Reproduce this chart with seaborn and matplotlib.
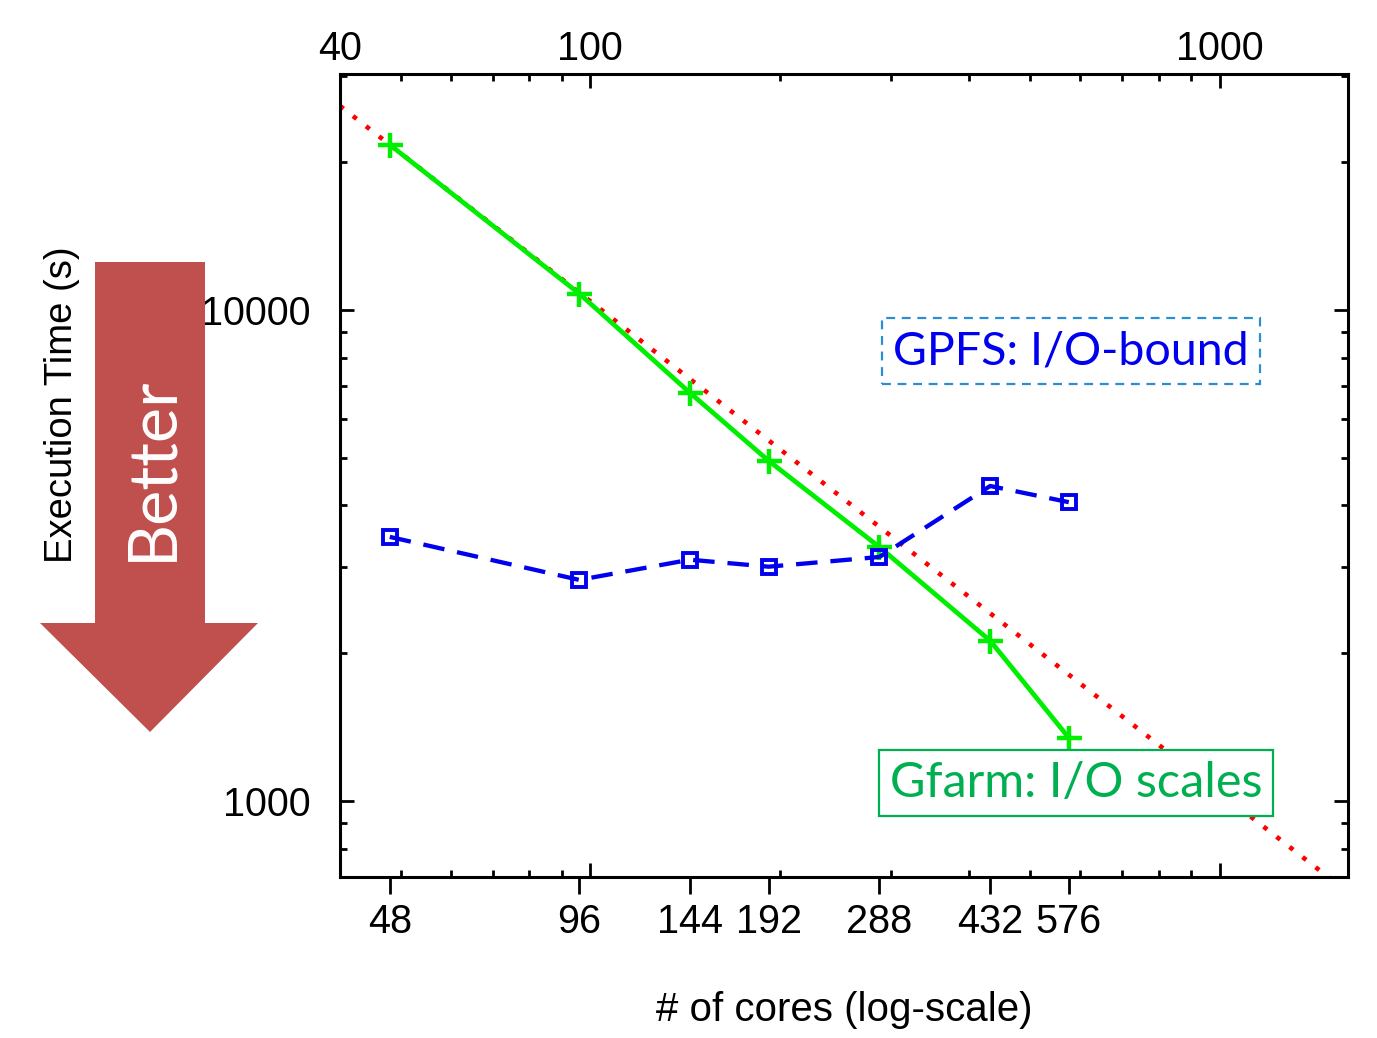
import matplotlib
matplotlib.use("Agg")
import matplotlib.pyplot as plt
from matplotlib.patches import Polygon
from matplotlib.ticker import FixedLocator, LogLocator, NullFormatter, FixedFormatter
import numpy as np
import pandas as pd
import seaborn as sns

# data
cores = [48, 96, 144, 192, 288, 432, 576]
gfarm = [21700, 10800, 6780, 4930, 3290, 2120, 1345]
gpfs = [3450, 2820, 3100, 3000, 3140, 4380, 4060]
top_ticks = [40, 100, 1000]
y_ticks = [1000, 10000]

# ideal scaling from the first gfarm point
ideal_x = np.array([40, 1600])
ideal_y = gfarm[0] * cores[0] / ideal_x

sns.set_style("ticks")
plt.rcParams["font.family"] = ["Liberation Sans", "DejaVu Sans"]
plt.rcParams["text.color"] = "black"
plt.rcParams["xtick.color"] = "black"
plt.rcParams["ytick.color"] = "black"
plt.rcParams["axes.labelcolor"] = "black"

fig = plt.figure(figsize=(13.77, 10.38), dpi=100)
ax = fig.add_axes([0.2469, 0.1551, 0.7320, 0.7736])
ax.set_xscale("log")
ax.set_yscale("log")

df = pd.DataFrame({"cores": cores, "gfarm": gfarm, "gpfs": gpfs})
ideal = pd.DataFrame({"cores": ideal_x, "t": ideal_y})

sns.lineplot(data=ideal, x="cores", y="t", ax=ax, color="#ff0000", zorder=2)
sns.lineplot(data=df, x="cores", y="gfarm", ax=ax, color="#00ee00",
             marker="+", markersize=18, markeredgewidth=3.2,
             markeredgecolor="#00ee00", zorder=3)
sns.lineplot(data=df, x="cores", y="gpfs", ax=ax, color="#0000ee",
             marker="s", markersize=9.5, markerfacecolor="none",
             markeredgecolor="#0000ee", markeredgewidth=2.8, zorder=3)

red_line, green_line, blue_line = ax.lines[:3]
red_line.set_linewidth(3.3)
red_line.set_linestyle((0, (1.0, 2.6)))
green_line.set_linewidth(3.4)
blue_line.set_linewidth(3.1)
blue_line.set_linestyle((0, (5, 3)))

ax.set_xlim(40, 1600)
ax.set_ylim(700, 30240)
ax.set_xlabel("")
ax.set_ylabel("")

for s in ax.spines.values():
    s.set_linewidth(2.2)
    s.set_color("black")

# main log axis: inward ticks both sides, labels on top only
ax.xaxis.set_major_locator(FixedLocator(top_ticks))
ax.xaxis.set_major_formatter(FixedFormatter([str(t) for t in top_ticks]))
ax.xaxis.set_minor_locator(LogLocator(base=10, subs=np.arange(2, 10)))
ax.xaxis.set_minor_formatter(NullFormatter())
ax.tick_params(axis="x", which="both", direction="in", top=True, bottom=True,
               labeltop=True, labelbottom=False, labelsize=28.5, pad=4)
ax.tick_params(axis="x", which="major", length=10, width=2)
ax.tick_params(axis="x", which="minor", length=5, width=2)

ax.yaxis.set_major_locator(FixedLocator(y_ticks))
ax.yaxis.set_major_formatter(FixedFormatter([str(t) for t in y_ticks]))
ax.yaxis.set_minor_locator(LogLocator(base=10, subs=np.arange(2, 10)))
ax.yaxis.set_minor_formatter(NullFormatter())
ax.tick_params(axis="y", which="both", direction="in", left=True, right=True,
               labelsize=28.5, pad=21)
ax.tick_params(axis="y", which="major", length=10, width=2)
ax.tick_params(axis="y", which="minor", length=5, width=2)

# outward ticks with the core counts
sec = ax.secondary_xaxis("bottom")
sec.set_xticks(cores)
sec.set_xticklabels([str(c) for c in cores])
sec.xaxis.set_minor_locator(FixedLocator([]))
sec.tick_params(axis="x", direction="out", length=12, width=2, labelsize=28.5, pad=7)
sec.spines["bottom"].set_visible(False)
sec.set_xlabel("# of cores (log-scale)", fontsize=29, labelpad=36)

fig.text(0.045, 1 - 405 / 1038, "Execution Time (s)", rotation=90, fontsize=27.5,
         ha="center", va="center")

# "Better" arrow in figure pixels
W, H = 1377, 1038
pts = [(95, 262), (205, 262), (205, 623), (258, 623), (150, 732), (40, 623), (95, 623)]
arrow = Polygon([(x / W, 1 - y / H) for x, y in pts], closed=True,
                transform=fig.transFigure, facecolor="#c0504d", edgecolor="none")
fig.patches.append(arrow)
fig.text(152 / W, 1 - 468 / H, "Better", rotation=90, color="white", fontsize=48,
         family=["Lato", "DejaVu Sans"], ha="center", va="center")

ax.text(1071 / W, 1 - 351 / H, "GPFS: I/O-bound", transform=fig.transFigure,
        color="#0000ee", fontsize=33.5, family=["Lato", "DejaVu Sans"],
        ha="center", va="center", zorder=5,
        bbox=dict(boxstyle="square,pad=0.25", facecolor="white",
                  edgecolor="#2a8fd0", linestyle=(0, (4, 3)), linewidth=1.6))
ax.text(1076 / W, 1 - 783 / H, "Gfarm: I/O scales", transform=fig.transFigure,
        color="#00b050", fontsize=35, family=["Lato", "DejaVu Sans"],
        ha="center", va="center", zorder=5,
        bbox=dict(boxstyle="square,pad=0.22", facecolor="white",
                  edgecolor="#00b050", linewidth=1.6))

fig.savefig("out.png", dpi=100)
